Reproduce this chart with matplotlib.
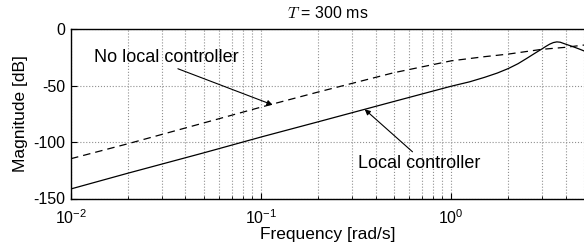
import matplotlib
matplotlib.use("Agg")
import matplotlib.pyplot as plt
import numpy as np

plt.rcParams['font.family'] = ['Liberation Sans', 'DejaVu Sans']
plt.rcParams['mathtext.fontset'] = 'cm'

# Local controller (solid)
freq_local = [0.01, 0.02, 0.05, 0.1, 0.2, 0.5, 1.0, 1.25, 1.5, 1.75, 2.0, 2.25, 2.5, 2.75,
              3.0, 3.15, 3.3, 3.45, 3.6, 3.75, 4.0, 4.25, 4.5, 4.75, 5.0]
mag_local = [-141.5, -127.5, -109.5, -95.5, -82.0, -64.0, -50.5, -46.6, -42.6, -38.8, -34.8,
             -30.5, -25.8, -21.4, -17.5, -15.2, -13.2, -11.8, -11.2, -11.5, -13.2, -14.7,
             -16.2, -17.7, -19.2]

# No local controller (dashed)
freq_nolocal = [0.01, 0.02, 0.05, 0.1, 0.2, 0.5, 1.0, 1.5, 2.0, 3.0, 4.0, 5.0]
mag_nolocal = [-114.7, -101.4, -83.0, -69.0, -55.6, -38.5, -28.0, -24.3, -22.0, -17.8, -16.0, -14.0]

xticks = [0.01, 0.1, 1.0]
xticklabels = [r'$\mathregular{10^{-2}}$', r'$\mathregular{10^{-1}}$', r'$\mathregular{10^{0}}$']
yticks = [0, -50, -100, -150]
yticklabels = ['0', '-50', '-100', '-150']

fig = plt.figure(figsize=(5.84, 2.5), dpi=100)
ax = fig.add_axes([0.1216, 0.206, 0.8784, 0.677])

ax.semilogx(freq_local, mag_local, color='black', lw=0.9)
ax.semilogx(freq_nolocal, mag_nolocal, color='black', lw=0.9, ls=(0, (6, 4)))

ax.set_xlim(0.01, 5)
ax.set_ylim(-150, 0)
ax.set_xticks(xticks)
ax.set_xticklabels(xticklabels)
ax.set_yticks(yticks)
ax.set_yticklabels(yticklabels)

ax.grid(True, which='major', ls=':', color='#909090', lw=0.8)
ax.grid(True, which='minor', axis='x', ls=':', color='#909090', lw=0.8)

ax.tick_params(which='both', direction='in', labelsize=11.5, top=False, right=False)
ax.tick_params(which='major', length=4, width=0.8)
ax.tick_params(which='minor', length=2, width=0.6)
ax.tick_params(axis='x', which='major', pad=7)
ax.tick_params(axis='y', which='major', pad=4)
for s in ax.spines.values():
    s.set_linewidth(1.0)
ax.spines['right'].set_visible(False)

ax.set_xlabel('Frequency [rad/s]', fontsize=12.5, labelpad=0)
ax.set_ylabel('Magnitude [dB]', fontsize=12.5, labelpad=4)
ax.set_title(r'$T$ = 300 ms', fontsize=11.5, pad=8)

ax.text(0.0319, -24.6, 'No local controller', fontsize=13, ha='center', va='center')
ax.annotate('', xy=(0.115, -67), xytext=(0.0365, -35),
            arrowprops=dict(arrowstyle='-|>', color='black', lw=0.8,
                            mutation_scale=8, shrinkA=0, shrinkB=0))
ax.text(0.68, -118.7, 'Local controller', fontsize=13, ha='center', va='center')
ax.annotate('', xy=(0.351, -71), xytext=(0.626, -108.6),
            arrowprops=dict(arrowstyle='-|>', color='black', lw=0.8,
                            mutation_scale=8, shrinkA=0, shrinkB=0))

fig.savefig('out.png', dpi=100)
